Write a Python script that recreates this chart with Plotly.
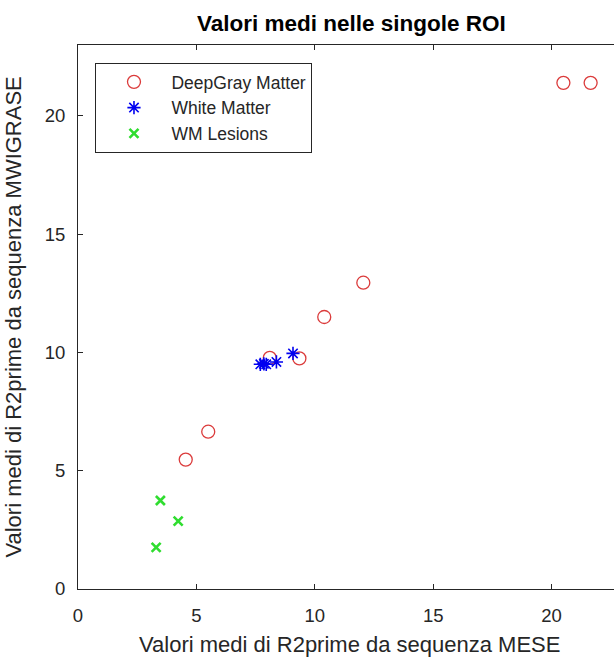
import plotly.graph_objects as go

# Data
gm_x = [20.5, 21.65, 12.05, 10.4, 8.1, 9.35, 5.5, 4.55]
gm_y = [21.4, 21.4, 12.95, 11.5, 9.77, 9.75, 6.65, 5.47]
wm_x = [7.7, 7.85, 7.95, 8.38, 9.08]
wm_y = [9.5, 9.52, 9.5, 9.6, 9.96]
les_x = [3.48, 4.23, 3.3]
les_y = [3.74, 2.87, 1.76]
ticks = [0, 5, 10, 15, 20]

W, H = 614, 657
L, R, T, B = 77.5, 614, 44.5, 589.0
XMAX = (R - L) / 23.7
YMAX = 23

FONT = "Liberation Sans, Arial, Helvetica, sans-serif"
DARK = "#262626"

fig = go.Figure()
fig.add_trace(go.Scatter(x=gm_x, y=gm_y, mode="markers", name="DeepGray Matter",
                         marker=dict(symbol="circle-open", size=13, color="#db3b3b",
                                     line=dict(width=1.3, color="#db3b3b"))))
fig.add_trace(go.Scatter(x=wm_x, y=wm_y, mode="markers", name="White Matter",
                         marker=dict(symbol="asterisk-open", size=11, color="#0000f0",
                                     line=dict(width=1.6, color="#0000f0"))))
fig.add_trace(go.Scatter(x=les_x, y=les_y, mode="markers", name="WM Lesions",
                         marker=dict(symbol="x-thin-open", size=9, color="#30dd30",
                                     line=dict(width=2.6, color="#30dd30"))))

axis_common = dict(showgrid=False, zeroline=False, showline=True, linecolor=DARK,
                   linewidth=1, ticks="inside", ticklen=5, tickcolor=DARK,
                   tickvals=ticks, tickfont=dict(family=FONT, size=18.5, color=DARK))

fig.update_layout(
    width=W, height=H,
    margin=dict(l=L, r=W - R, t=T, b=H - B, pad=0),
    paper_bgcolor="white", plot_bgcolor="white",
    showlegend=True,
    xaxis=dict(range=[0, XMAX], mirror="ticks", ticklabelstandoff=10, **axis_common),
    yaxis=dict(range=[0, YMAX], mirror=False, ticklabelstandoff=8, **axis_common),
    legend=dict(x=(95 - L) / (R - L), y=(B - 62.5) / (B - T), xanchor="left", yanchor="top",
                bgcolor="white", bordercolor=DARK, borderwidth=1,
                font=dict(family=FONT, size=17.5, color=DARK), itemwidth=65,
                tracegroupgap=0),
)

fig.add_annotation(text="<b>Valori medi nelle singole ROI</b>", xref="paper", yref="paper",
                   x=(351 - L) / (R - L), y=(B - 23) / (B - T), xanchor="center", yanchor="middle",
                   showarrow=False, font=dict(family=FONT, size=22.5, color="black"))
fig.add_annotation(text="Valori medi di R2prime da sequenza MESE", xref="paper", yref="paper",
                   x=(349 - L) / (R - L), y=(B - 645) / (B - T), xanchor="center", yanchor="middle",
                   showarrow=False, font=dict(family=FONT, size=22, color=DARK))
fig.add_annotation(text="Valori medi di R2prime da sequenza MWIGRASE", xref="paper", yref="paper",
                   x=(12 - L) / (R - L), y=0.5, xanchor="center", yanchor="middle", textangle=-90,
                   showarrow=False, font=dict(family=FONT, size=22, color=DARK))

fig.write_html("out.html", config={"displayModeBar": False},
               post_script="document.body.style.margin='0px';document.body.style.overflow='hidden';")
